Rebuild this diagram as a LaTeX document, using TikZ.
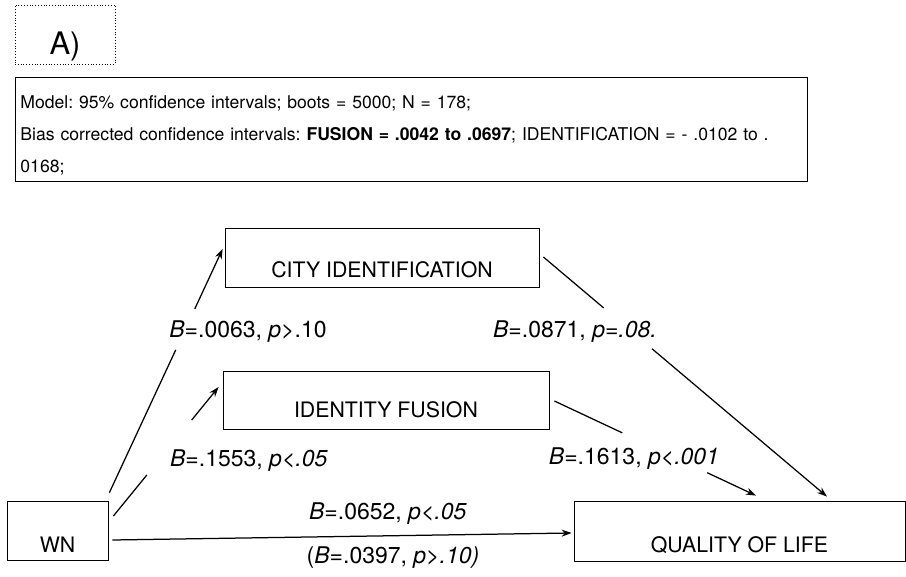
\documentclass[tikz,border=0pt]{standalone}
\usepackage{fontspec}
\setmainfont{TeX Gyre Heros}
\usetikzlibrary{arrows.meta,calc}
\frenchspacing
\begin{document}
\begin{tikzpicture}[x=1pt,y=-1pt,
  box/.style={draw, line width=0.8pt, inner sep=0pt, text depth=0pt, font=\fontsize{21.3}{25}\selectfont},
  lbl/.style={font=\fontsize{23}{27}\selectfont, inner sep=0pt, anchor=base},
  conn/.style={line width=1.25pt},
  arr/.style={conn, -{Stealth[length=10pt,width=7pt]}}]
\useasboundingbox (0,0) rectangle (906,577);
% header
\node[draw, dotted, line width=0.8pt, minimum width=100pt, minimum height=59pt, inner sep=0pt,
      text height=41pt, text depth=0pt, font=\fontsize{31}{35}\selectfont] (alab) at (65,34.5) {A)};
\node[draw, line width=0.9pt, anchor=north west, text width=782pt, inner xsep=5pt, inner ysep=0pt,
      minimum height=104pt, align=left, font=\fontsize{17.6}{32}\selectfont] (model) at (15,77)
  {\rule{0pt}{31pt}Model: 95\% confidence intervals; boots = 5000; N = 178;\\
   Bias corrected confidence intervals: \textbf{FUSION = .0042 to .0697}; IDENTIFICATION = - .0102 to .\\
   0168;\rule[-8pt]{0pt}{8pt}};
% boxes
\node[box, minimum width=314pt, minimum height=59pt, text height=41pt] (city) at (382,257.5) {CITY IDENTIFICATION};
\node[box, minimum width=326pt, minimum height=58pt, text height=36pt] (fusion) at (386,400) {IDENTITY FUSION};
\node[box, minimum width=101pt, minimum height=59pt, text height=43pt] (wn) at (57.5,530.5) {WN};
\node[box, minimum width=331pt, minimum height=60pt, text height=42pt] (qol) at (739.5,531) {QUALITY OF LIFE};
% connector end points
\coordinate (a1s) at ($(wn.north east)+(1,-8)$);
\coordinate (a1e) at ($(city.west)+(-2,-8.5)$);
\coordinate (a2s) at ($(wn.east)+(5,-14.5)$);
\coordinate (a2e) at ($(fusion.west)+(-4,-13)$);
\coordinate (a3s) at ($(city.east)+(4,-0.5)$);
\coordinate (a3e) at ($(qol.north)+(87.5,-4)$);
\coordinate (a4s) at ($(fusion.east)+(5,1)$);
\coordinate (a4e) at ($(qol.north)+(16.5,-5)$);
\coordinate (a5s) at ($(wn.east)+(4,9.5)$);
\coordinate (a5e) at ($(qol.west)+(-2,2)$);
% connectors (broken around labels)
\draw[conn] (a1s) -- ($(a1s)!0.586!(a1e)$);
\draw[arr] ($(a1s)!0.754!(a1e)$) -- (a1e);
\draw[conn] (a2s) -- ($(a2s)!0.318!(a2e)$);
\draw[arr] ($(a2s)!0.744!(a2e)$) -- (a2e);
\draw[conn] (a3s) -- ($(a3s)!0.2125!(a3e)$);
\draw[arr] ($(a3s)!0.383!(a3e)$) -- (a3e);
\draw[conn] (a4s) -- ($(a4s)!0.337!(a4e)$);
\draw[arr] ($(a4s)!0.758!(a4e)$) -- (a4e);
\draw[arr] (a5s) -- (a5e);
% labels
\node[lbl] (l1) at (248,338) {\textit{B}=.0063, \textit{p}>.10};
\node[lbl] (l2) at (575,338) {\textit{B}=.0871, \textit{p=.08.}};
\node[lbl] (l3) at (249,467) {\textit{B}=.1553, \textit{p<.05}};
\node[lbl] (l4) at (634,465) {\textit{B}=.1613, \textit{p<.001}};
\node[lbl] (l5) at (388,519) {\textit{B}=.0652, \textit{p<.05}};
\node[lbl] (l6) at (393,563) {(\textit{B}=.0397, \textit{p>.10)}};
\end{tikzpicture}
\end{document}
